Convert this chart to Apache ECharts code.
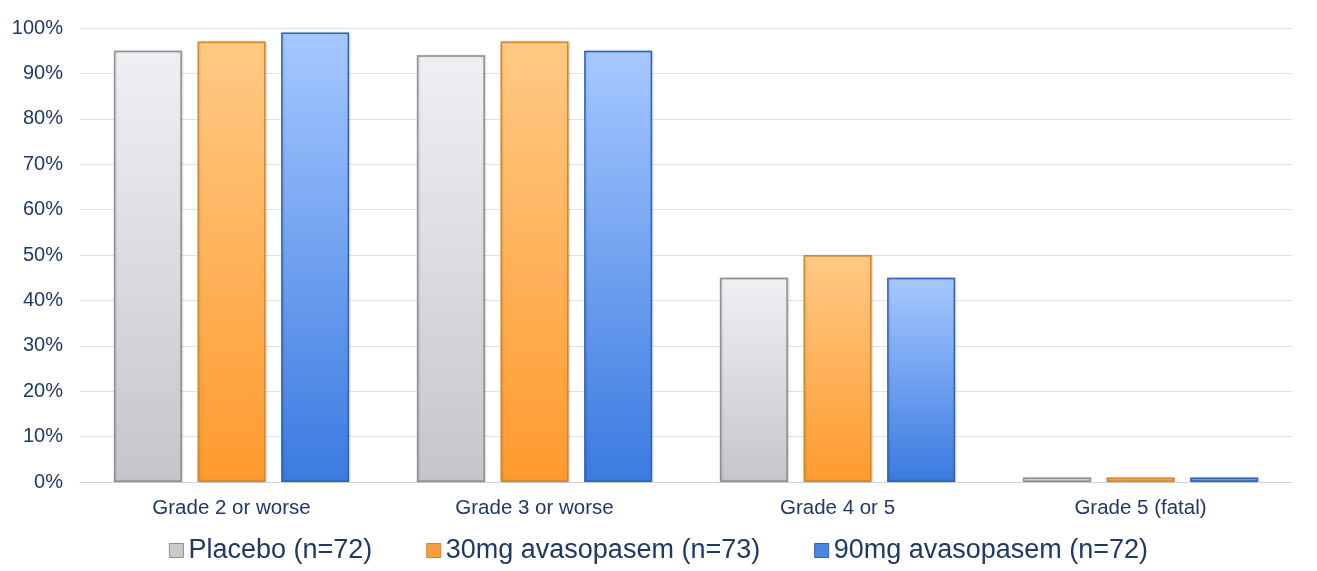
<!DOCTYPE html>
<html><head><meta charset="utf-8">
<script src="https://cdn.jsdelivr.net/npm/echarts@6/dist/echarts.min.js"></script>
<style>html,body{margin:0;padding:0;background:#fff}#c{width:1317px;height:571px}</style>
</head><body><div id="c"></div>
<script>
var categories = ['Grade 2 or worse', 'Grade 3 or worse', 'Grade 4 or 5', 'Grade 5 (fatal)'];
var seriesNames = ['Placebo (n=72)', '30mg avasopasem (n=73)', '90mg avasopasem (n=72)'];
var placebo = [95, 94, 45, 1];
var mg30 = [97, 97, 50, 1];
var mg90 = [99, 95, 45, 1];

var txt = '#1f3864';
function grad(top, bottom) {
  return new echarts.graphic.LinearGradient(0, 0, 0, 1, [
    {offset: 0, color: top}, {offset: 1, color: bottom}]);
}
var styles = [
  {color: grad('#eef0f3', '#c4c6c9'), borderColor: '#8e8e8e', legend: '#c9cacc'},
  {color: grad('#ffca85', '#ff9a2e'), borderColor: '#d9861e', legend: '#f5a040'},
  {color: grad('#a6c8ff', '#3a7ae0'), borderColor: '#2f62b8', legend: '#4a86e0'}
];
var datas = [placebo, mg30, mg90];
var chart = echarts.init(document.getElementById('c'));
chart.setOption({
  animation: false,
  grid: {left: 80, right: 25, top: 28, bottom: 89},
  legend: {
    bottom: 2, left: 'center', itemWidth: 14, itemHeight: 14, itemGap: 54,
    icon: 'rect',
    textStyle: {color: txt, fontSize: 27, fontFamily: 'Liberation Sans, Arial, sans-serif'},
    data: seriesNames.map(function (n, i) {
      return {name: n, itemStyle: {color: styles[i].legend, borderColor: styles[i].borderColor, borderWidth: 1}};
    })
  },
  xAxis: {
    type: 'category', data: categories,
    axisLine: {lineStyle: {color: '#d0d5dc'}},
    axisTick: {show: false},
    axisLabel: {color: txt, fontSize: 20.5, margin: 16, fontFamily: 'Liberation Sans, Arial, sans-serif'}
  },
  yAxis: {
    type: 'value', min: 0, max: 100, interval: 10,
    axisLine: {show: false}, axisTick: {show: false},
    splitLine: {lineStyle: {color: '#dde2e8'}},
    axisLabel: {color: txt, fontSize: 20, margin: 17, formatter: '{value}%', fontFamily: 'Liberation Sans, Arial, sans-serif'}
  },
  series: seriesNames.map(function (n, i) {
    return {
      name: n, type: 'bar', data: datas[i], barWidth: 68, barGap: '23%',
      itemStyle: {color: styles[i].color, borderColor: styles[i].borderColor, borderWidth: 1.5,
        shadowColor: 'rgba(0,0,0,0.15)', shadowBlur: 2, shadowOffsetX: 1}
    };
  })
});
</script></body></html>
